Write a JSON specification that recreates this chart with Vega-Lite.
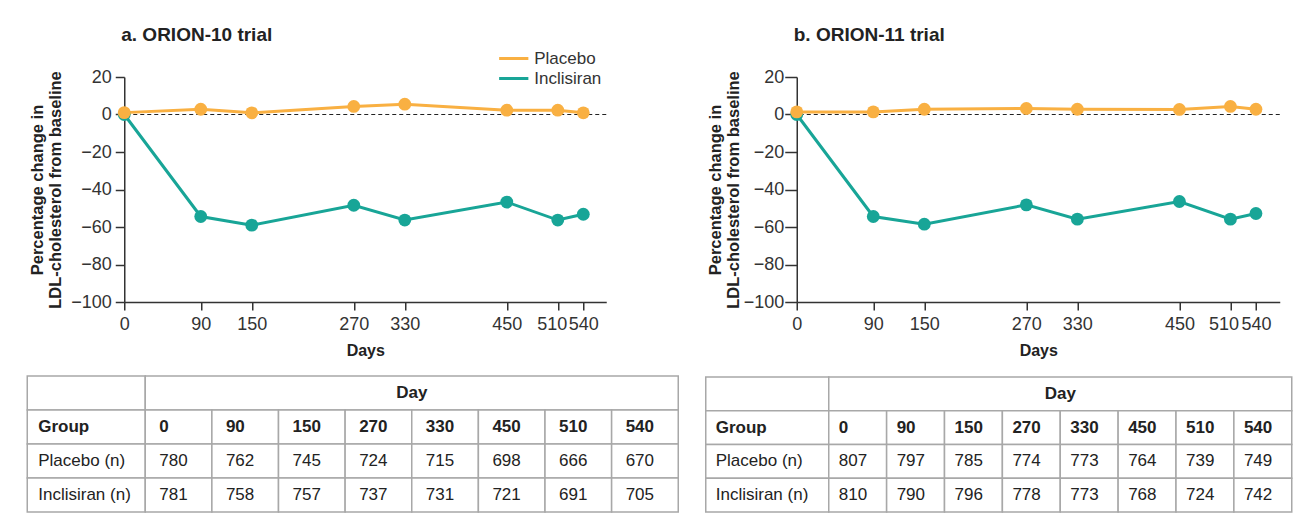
{
  "$schema": "https://vega.github.io/schema/vega-lite/v6.json",
  "padding": {"left": 26.25, "top": 26, "right": 0, "bottom": 0},
  "background": "white",
  "config": {
    "view": {"stroke": null},
    "font": "Liberation Sans",
    "axis": {"grid": false}
  },
  "datasets": {
    "lines": [
      {"trial": "a", "group": "Inclisiran", "day": 0, "pct": 0},
      {"trial": "a", "group": "Inclisiran", "day": 90, "pct": -54.4},
      {"trial": "a", "group": "Inclisiran", "day": 150, "pct": -59.0},
      {"trial": "a", "group": "Inclisiran", "day": 270, "pct": -48.4},
      {"trial": "a", "group": "Inclisiran", "day": 330, "pct": -56.3},
      {"trial": "a", "group": "Inclisiran", "day": 450, "pct": -46.7},
      {"trial": "a", "group": "Inclisiran", "day": 510, "pct": -56.3},
      {"trial": "a", "group": "Inclisiran", "day": 540, "pct": -53.2},
      {"trial": "a", "group": "Placebo", "day": 0, "pct": 1.0},
      {"trial": "a", "group": "Placebo", "day": 90, "pct": 2.8},
      {"trial": "a", "group": "Placebo", "day": 150, "pct": 0.9},
      {"trial": "a", "group": "Placebo", "day": 270, "pct": 4.3},
      {"trial": "a", "group": "Placebo", "day": 330, "pct": 5.5},
      {"trial": "a", "group": "Placebo", "day": 450, "pct": 2.3},
      {"trial": "a", "group": "Placebo", "day": 510, "pct": 2.3},
      {"trial": "a", "group": "Placebo", "day": 540, "pct": 0.9},
      {"trial": "b", "group": "Inclisiran", "day": 0, "pct": 0},
      {"trial": "b", "group": "Inclisiran", "day": 90, "pct": -54.4},
      {"trial": "b", "group": "Inclisiran", "day": 150, "pct": -58.5},
      {"trial": "b", "group": "Inclisiran", "day": 270, "pct": -48.2},
      {"trial": "b", "group": "Inclisiran", "day": 330, "pct": -55.8},
      {"trial": "b", "group": "Inclisiran", "day": 450, "pct": -46.4},
      {"trial": "b", "group": "Inclisiran", "day": 510, "pct": -55.8},
      {"trial": "b", "group": "Inclisiran", "day": 540, "pct": -52.8},
      {"trial": "b", "group": "Placebo", "day": 0, "pct": 1.4},
      {"trial": "b", "group": "Placebo", "day": 90, "pct": 1.4},
      {"trial": "b", "group": "Placebo", "day": 150, "pct": 2.8},
      {"trial": "b", "group": "Placebo", "day": 270, "pct": 3.2},
      {"trial": "b", "group": "Placebo", "day": 330, "pct": 2.8},
      {"trial": "b", "group": "Placebo", "day": 450, "pct": 2.7},
      {"trial": "b", "group": "Placebo", "day": 510, "pct": 4.3},
      {"trial": "b", "group": "Placebo", "day": 540, "pct": 2.8}
    ],
    "cells": [
      {"trial": "a", "row": "Day", "col": "Group", "label": ""},
      {"trial": "a", "row": "Group", "col": "Group", "label": "Group"},
      {"trial": "a", "row": "Placebo (n)", "col": "Group", "label": "Placebo (n)"},
      {"trial": "a", "row": "Inclisiran (n)", "col": "Group", "label": "Inclisiran (n)"},
      {"trial": "a", "row": "Day", "col": "Day", "label": "Day"},
      {"trial": "a", "row": "Group", "col": "0", "label": "0"},
      {"trial": "a", "row": "Group", "col": "90", "label": "90"},
      {"trial": "a", "row": "Group", "col": "150", "label": "150"},
      {"trial": "a", "row": "Group", "col": "270", "label": "270"},
      {"trial": "a", "row": "Group", "col": "330", "label": "330"},
      {"trial": "a", "row": "Group", "col": "450", "label": "450"},
      {"trial": "a", "row": "Group", "col": "510", "label": "510"},
      {"trial": "a", "row": "Group", "col": "540", "label": "540"},
      {"trial": "a", "row": "Placebo (n)", "col": "0", "label": "780"},
      {"trial": "a", "row": "Placebo (n)", "col": "90", "label": "762"},
      {"trial": "a", "row": "Placebo (n)", "col": "150", "label": "745"},
      {"trial": "a", "row": "Placebo (n)", "col": "270", "label": "724"},
      {"trial": "a", "row": "Placebo (n)", "col": "330", "label": "715"},
      {"trial": "a", "row": "Placebo (n)", "col": "450", "label": "698"},
      {"trial": "a", "row": "Placebo (n)", "col": "510", "label": "666"},
      {"trial": "a", "row": "Placebo (n)", "col": "540", "label": "670"},
      {"trial": "a", "row": "Inclisiran (n)", "col": "0", "label": "781"},
      {"trial": "a", "row": "Inclisiran (n)", "col": "90", "label": "758"},
      {"trial": "a", "row": "Inclisiran (n)", "col": "150", "label": "757"},
      {"trial": "a", "row": "Inclisiran (n)", "col": "270", "label": "737"},
      {"trial": "a", "row": "Inclisiran (n)", "col": "330", "label": "731"},
      {"trial": "a", "row": "Inclisiran (n)", "col": "450", "label": "721"},
      {"trial": "a", "row": "Inclisiran (n)", "col": "510", "label": "691"},
      {"trial": "a", "row": "Inclisiran (n)", "col": "540", "label": "705"},
      {"trial": "b", "row": "Day", "col": "Group", "label": ""},
      {"trial": "b", "row": "Group", "col": "Group", "label": "Group"},
      {"trial": "b", "row": "Placebo (n)", "col": "Group", "label": "Placebo (n)"},
      {"trial": "b", "row": "Inclisiran (n)", "col": "Group", "label": "Inclisiran (n)"},
      {"trial": "b", "row": "Day", "col": "Day", "label": "Day"},
      {"trial": "b", "row": "Group", "col": "0", "label": "0"},
      {"trial": "b", "row": "Group", "col": "90", "label": "90"},
      {"trial": "b", "row": "Group", "col": "150", "label": "150"},
      {"trial": "b", "row": "Group", "col": "270", "label": "270"},
      {"trial": "b", "row": "Group", "col": "330", "label": "330"},
      {"trial": "b", "row": "Group", "col": "450", "label": "450"},
      {"trial": "b", "row": "Group", "col": "510", "label": "510"},
      {"trial": "b", "row": "Group", "col": "540", "label": "540"},
      {"trial": "b", "row": "Placebo (n)", "col": "0", "label": "807"},
      {"trial": "b", "row": "Placebo (n)", "col": "90", "label": "797"},
      {"trial": "b", "row": "Placebo (n)", "col": "150", "label": "785"},
      {"trial": "b", "row": "Placebo (n)", "col": "270", "label": "774"},
      {"trial": "b", "row": "Placebo (n)", "col": "330", "label": "773"},
      {"trial": "b", "row": "Placebo (n)", "col": "450", "label": "764"},
      {"trial": "b", "row": "Placebo (n)", "col": "510", "label": "739"},
      {"trial": "b", "row": "Placebo (n)", "col": "540", "label": "749"},
      {"trial": "b", "row": "Inclisiran (n)", "col": "0", "label": "810"},
      {"trial": "b", "row": "Inclisiran (n)", "col": "90", "label": "790"},
      {"trial": "b", "row": "Inclisiran (n)", "col": "150", "label": "796"},
      {"trial": "b", "row": "Inclisiran (n)", "col": "270", "label": "778"},
      {"trial": "b", "row": "Inclisiran (n)", "col": "330", "label": "773"},
      {"trial": "b", "row": "Inclisiran (n)", "col": "450", "label": "768"},
      {"trial": "b", "row": "Inclisiran (n)", "col": "510", "label": "724"},
      {"trial": "b", "row": "Inclisiran (n)", "col": "540", "label": "742"}
    ]
  },
  "spacing": 25.5,
  "hconcat": [
    {
      "spacing": 17,
      "vconcat": [
        {
          "width": 482,
          "height": 225,
          "title": {"text": "a. ORION-10 trial", "anchor": "start", "frame": "group", "fontSize": 19, "fontWeight": "bold", "offset": 23, "dx": -3, "color": "#222"},
          "data": {"name": "lines"},
          "transform": [{"filter": "datum.trial === 'a'"}],
          "encoding": {
            "x": {"field": "day", "type": "quantitative", "scale": {"domain": [0, 567], "nice": false},
              "axis": {"values": [0, 90, 150, 270, 330, 450, 510, 540], "title": "Days", "titleFontSize": 16, "titleFontWeight": "bold", "titleColor": "#222", "titlePadding": 9, "labelFontSize": 18, "labelPadding": 5, "labelColor": "#333", "labelOverlap": false, "labelFlush": false, "labelOffset": {"condition": {"test": "datum.value === 510", "value": -6}, "value": 0}, "tickSize": 8, "tickColor": "#333", "tickWidth": 1.5, "domainColor": "#333", "domainWidth": 1.5}},
            "y": {"field": "pct", "type": "quantitative", "scale": {"domain": [-100, 20], "nice": false},
              "axis": {"values": [-100, -80, -60, -40, -20, 0, 20], "title": ["Percentage change in", "LDL-cholesterol from baseline"], "titleFontSize": 16.5, "titleFontWeight": "bold", "titleColor": "#222", "titleLineHeight": 18, "titlePadding": 7, "labelFontSize": 18, "labelPadding": 4, "labelColor": "#333", "labelOverlap": false, "tickSize": 9, "tickColor": "#333", "tickWidth": 1.5, "domainColor": "#333", "domainWidth": 1.5}},
            "color": {"field": "group", "type": "nominal", "scale": {"domain": ["Placebo", "Inclisiran"], "range": ["#F9B042", "#18A597"]},
              "legend": {"title": null, "orient": "none", "legendX": 378, "legendY": -30, "symbolType": "M-1.5,0H1.5", "symbolStrokeWidth": 3, "symbolSize": 380, "labelFontSize": 17, "labelColor": "#333", "rowPadding": 0, "labelOffset": 9}}
          },
          "layer": [
            {"data": {"values": [{"baseline": 0}]}, "mark": {"type": "rule", "strokeDash": [4, 3], "color": "#222", "strokeWidth": 1.2}, "encoding": {"x": null, "color": null, "y": {"field": "baseline", "type": "quantitative"}}},
            {"mark": {"type": "line", "strokeWidth": 3}},
            {"mark": {"type": "point", "filled": true, "size": 165, "opacity": 1, "shape": "circle"}}
          ]
        },
        {
          "width": 554,
          "height": 136,
          "data": {"name": "cells"},
          "transform": [{"filter": "datum.trial === 'a'"}],
          "encoding": {
            "y": {"field": "row", "type": "nominal", "axis": null, "scale": {"domain": ["Day", "Group", "Placebo (n)", "Inclisiran (n)"], "paddingInner": 0, "paddingOuter": 0}}
          },
          "resolve": {"scale": {"x": "independent"}},
          "layer": [
            {
              "transform": [{"filter": "datum.col === 'Group'"}],
              "encoding": {"x": {"field": "col", "type": "nominal", "axis": null, "scale": {"domain": ["Group"], "range": [-97, 21], "paddingInner": 0, "paddingOuter": 0}}},
              "layer": [
                {"mark": {"type": "rect", "fill": "white", "stroke": "#a8a8a8", "strokeWidth": 1.5}},
                {"transform": [{"filter": "datum.row === 'Group'"}], "mark": {"type": "text", "align": "left", "baseline": "middle", "dx": 11, "fontSize": 17, "fontWeight": "bold", "color": "#222"},
                  "encoding": {"x": {"field": "col", "type": "nominal", "bandPosition": 0}, "text": {"field": "label"}}},
                {"transform": [{"filter": "datum.row !== 'Group'"}], "mark": {"type": "text", "align": "left", "baseline": "middle", "dx": 11, "fontSize": 17, "color": "#222"},
                  "encoding": {"x": {"field": "col", "type": "nominal", "bandPosition": 0}, "text": {"field": "label"}}}
              ]
            },
            {
              "transform": [{"filter": "datum.col === 'Day'"}],
              "encoding": {"x": {"field": "col", "type": "nominal", "axis": null, "scale": {"domain": ["Day"], "range": [21, 554], "paddingInner": 0, "paddingOuter": 0}}},
              "layer": [
                {"mark": {"type": "rect", "fill": "white", "stroke": "#a8a8a8", "strokeWidth": 1.5}},
                {"mark": {"type": "text", "baseline": "middle", "fontSize": 17, "fontWeight": "bold", "color": "#222"}, "encoding": {"text": {"field": "label"}}}
              ]
            },
            {
              "transform": [{"filter": "datum.col !== 'Group' && datum.col !== 'Day'"}],
              "encoding": {"x": {"field": "col", "type": "nominal", "axis": null, "scale": {"domain": ["0", "90", "150", "270", "330", "450", "510", "540"], "range": [21, 554], "paddingInner": 0, "paddingOuter": 0}}},
              "layer": [
                {"mark": {"type": "rect", "fill": "white", "stroke": "#a8a8a8", "strokeWidth": 1.5}},
                {"transform": [{"filter": "datum.row === 'Group'"}], "mark": {"type": "text", "align": "left", "baseline": "middle", "dx": 14, "fontSize": 17, "fontWeight": "bold", "color": "#222"},
                  "encoding": {"x": {"field": "col", "type": "nominal", "bandPosition": 0}, "text": {"field": "label"}}},
                {"transform": [{"filter": "datum.row !== 'Group'"}], "mark": {"type": "text", "align": "left", "baseline": "middle", "dx": 14, "fontSize": 17, "color": "#222"},
                  "encoding": {"x": {"field": "col", "type": "nominal", "bandPosition": 0}, "text": {"field": "label"}}}
              ]
            }
          ]
        }
      ]
    },
    {
      "spacing": 18,
      "vconcat": [
        {
          "width": 483,
          "height": 225,
          "title": {"text": "b. ORION-11 trial", "anchor": "start", "frame": "group", "fontSize": 19, "fontWeight": "bold", "offset": 23, "dx": -3, "color": "#222"},
          "data": {"name": "lines"},
          "transform": [{"filter": "datum.trial === 'b'"}],
          "encoding": {
            "x": {"field": "day", "type": "quantitative", "scale": {"domain": [0, 568], "nice": false},
              "axis": {"values": [0, 90, 150, 270, 330, 450, 510, 540], "title": "Days", "titleFontSize": 16, "titleFontWeight": "bold", "titleColor": "#222", "titlePadding": 9, "labelFontSize": 18, "labelPadding": 5, "labelColor": "#333", "labelOverlap": false, "labelFlush": false, "labelOffset": {"condition": {"test": "datum.value === 510", "value": -7}, "value": 0}, "tickSize": 8, "tickColor": "#333", "tickWidth": 1.5, "domainColor": "#333", "domainWidth": 1.5}},
            "y": {"field": "pct", "type": "quantitative", "scale": {"domain": [-100, 20], "nice": false},
              "axis": {"values": [-100, -80, -60, -40, -20, 0, 20], "title": ["Percentage change in", "LDL-cholesterol from baseline"], "titleFontSize": 16.5, "titleFontWeight": "bold", "titleColor": "#222", "titleLineHeight": 18, "titlePadding": 1.5, "labelFontSize": 18, "labelPadding": 1, "labelColor": "#333", "labelOverlap": false, "tickSize": 12, "tickColor": "#333", "tickWidth": 1.5, "domainColor": "#333", "domainWidth": 1.5}},
            "color": {"field": "group", "type": "nominal", "scale": {"domain": ["Placebo", "Inclisiran"], "range": ["#F9B042", "#18A597"]},
              "legend": {"title": null, "orient": "none", "legendX": 384, "legendY": -25.5, "symbolType": "M-1.5,0H1.5", "symbolStrokeWidth": 3, "symbolSize": 380, "labelFontSize": 17, "labelColor": "#333", "rowPadding": 0.5, "labelOffset": 9}}
          },
          "layer": [
            {"data": {"values": [{"baseline": 0}]}, "mark": {"type": "rule", "strokeDash": [4, 3], "color": "#222", "strokeWidth": 1.2}, "encoding": {"x": null, "color": null, "y": {"field": "baseline", "type": "quantitative"}}},
            {"mark": {"type": "line", "strokeWidth": 3}},
            {"mark": {"type": "point", "filled": true, "size": 165, "opacity": 1, "shape": "circle"}}
          ]
        },
        {
          "width": 495,
          "height": 135,
          "data": {"name": "cells"},
          "transform": [{"filter": "datum.trial === 'b'"}],
          "encoding": {
            "y": {"field": "row", "type": "nominal", "axis": null, "scale": {"domain": ["Day", "Group", "Placebo (n)", "Inclisiran (n)"], "paddingInner": 0, "paddingOuter": 0}}
          },
          "resolve": {"scale": {"x": "independent"}},
          "layer": [
            {
              "transform": [{"filter": "datum.col === 'Group'"}],
              "encoding": {"x": {"field": "col", "type": "nominal", "axis": null, "scale": {"domain": ["Group"], "range": [-91, 32], "paddingInner": 0, "paddingOuter": 0}}},
              "layer": [
                {"mark": {"type": "rect", "fill": "white", "stroke": "#a8a8a8", "strokeWidth": 1.5}},
                {"transform": [{"filter": "datum.row === 'Group'"}], "mark": {"type": "text", "align": "left", "baseline": "middle", "dx": 10, "fontSize": 17, "fontWeight": "bold", "color": "#222"},
                  "encoding": {"x": {"field": "col", "type": "nominal", "bandPosition": 0}, "text": {"field": "label"}}},
                {"transform": [{"filter": "datum.row !== 'Group'"}], "mark": {"type": "text", "align": "left", "baseline": "middle", "dx": 10, "fontSize": 17, "color": "#222"},
                  "encoding": {"x": {"field": "col", "type": "nominal", "bandPosition": 0}, "text": {"field": "label"}}}
              ]
            },
            {
              "transform": [{"filter": "datum.col === 'Day'"}],
              "encoding": {"x": {"field": "col", "type": "nominal", "axis": null, "scale": {"domain": ["Day"], "range": [32, 495], "paddingInner": 0, "paddingOuter": 0}}},
              "layer": [
                {"mark": {"type": "rect", "fill": "white", "stroke": "#a8a8a8", "strokeWidth": 1.5}},
                {"mark": {"type": "text", "baseline": "middle", "fontSize": 17, "fontWeight": "bold", "color": "#222"}, "encoding": {"text": {"field": "label"}}}
              ]
            },
            {
              "transform": [{"filter": "datum.col !== 'Group' && datum.col !== 'Day'"}],
              "encoding": {"x": {"field": "col", "type": "nominal", "axis": null, "scale": {"domain": ["0", "90", "150", "270", "330", "450", "510", "540"], "range": [32, 495], "paddingInner": 0, "paddingOuter": 0}}},
              "layer": [
                {"mark": {"type": "rect", "fill": "white", "stroke": "#a8a8a8", "strokeWidth": 1.5}},
                {"transform": [{"filter": "datum.row === 'Group'"}], "mark": {"type": "text", "align": "left", "baseline": "middle", "dx": 10, "fontSize": 17, "fontWeight": "bold", "color": "#222"},
                  "encoding": {"x": {"field": "col", "type": "nominal", "bandPosition": 0}, "text": {"field": "label"}}},
                {"transform": [{"filter": "datum.row !== 'Group'"}], "mark": {"type": "text", "align": "left", "baseline": "middle", "dx": 10, "fontSize": 17, "color": "#222"},
                  "encoding": {"x": {"field": "col", "type": "nominal", "bandPosition": 0}, "text": {"field": "label"}}}
              ]
            }
          ]
        }
      ]
    }
  ]
}
